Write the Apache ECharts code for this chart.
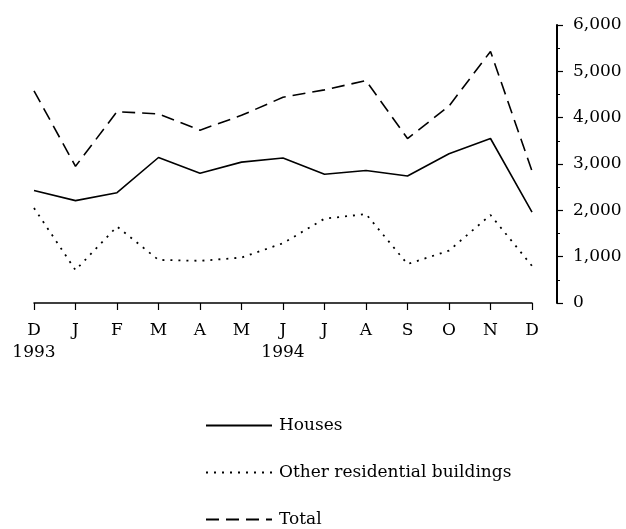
<!DOCTYPE html>
<html>
<head>
<meta charset="utf-8">
<script src="https://cdn.jsdelivr.net/npm/echarts@6/dist/echarts.min.js"></script>
<style>
html,body{margin:0;padding:0;background:#fff;}
#chartmain{width:626px;height:529px;}
</style>
</head>
<body>
<div id="chartmain"></div>
<script>
var months=['D\n1993','J','F','M','A','M','J\n1994','J','A','S','O','N','D'];
var houses=[2430,2210,2380,3140,2800,3040,3130,2780,2860,2740,3220,3550,1960];
var others=[2050,710,1650,930,910,980,1290,1820,1920,840,1130,1900,800];
var totals=[4580,2950,4130,4080,3730,4050,4440,4600,4800,3550,4250,5430,2850];
var yTicks=[0,1000,2000,3000,4000,5000,6000];

var font='"DejaVu Serif", "Liberation Serif", serif';

function showchart() {
	var myChart=echarts.init(document.getElementById("chartmain"));
	var option={
		animation:false,
		backgroundColor:'#fff',
		textStyle:{fontFamily:font,color:'#000'},
		grid:{left:34,right:94,top:25,bottom:226},
		legend:{
			orient:'vertical',
			left:205,top:417,
			padding:0,
			itemWidth:66,itemHeight:16,itemGap:30,
			itemStyle:{opacity:0},
			textStyle:{fontFamily:font,fontSize:17,color:'#000',lineHeight:16,padding:[0,0,0,2]},
			data:['Houses','Other residential buildings','Total']
		},
		xAxis:[{
			type:'category',
			boundaryGap:false,
			data:months,
			axisLine:{lineStyle:{color:'#000',width:1.5}},
			axisTick:{length:7,lineStyle:{color:'#000',width:1.2}},
			axisLabel:{
				color:'#000',fontFamily:font,fontSize:17,lineHeight:22,margin:17,
				verticalAlign:'top',interval:0
			}
		}],
		yAxis:[{
			type:'value',
			position:'right',
			offset:25,
			min:yTicks[0],max:yTicks[yTicks.length-1],interval:1000,
			axisLine:{show:true,lineStyle:{color:'#000',width:2}},
			axisTick:{show:true,length:6,lineStyle:{color:'#000',width:1.2}},
			minorTick:{show:true,splitNumber:2,length:3,lineStyle:{color:'#000'}},
			splitLine:{show:false},
			axisLabel:{
				color:'#000',fontFamily:font,fontSize:17,margin:16,
				formatter:function(value){
					return value.toString().replace(/\B(?=(\d{3})+(?!\d))/g,',');
				}
			}
		}],
		series:[{
			name:'Houses',type:'line',symbol:'none',
			lineStyle:{color:'#000',width:1.6,type:'solid'},
			itemStyle:{color:'#000'},
			data:houses
		},{
			name:'Other residential buildings',type:'line',symbol:'none',
			lineStyle:{color:'#000',width:1.8,type:[2,6]},
			itemStyle:{color:'#000'},
			data:others
		},{
			name:'Total',type:'line',symbol:'none',
			lineStyle:{color:'#000',width:1.6,type:[13,7]},
			itemStyle:{color:'#000'},
			data:totals
		}]
	};
	myChart.setOption(option);
}
showchart();
</script>
</body>
</html>
